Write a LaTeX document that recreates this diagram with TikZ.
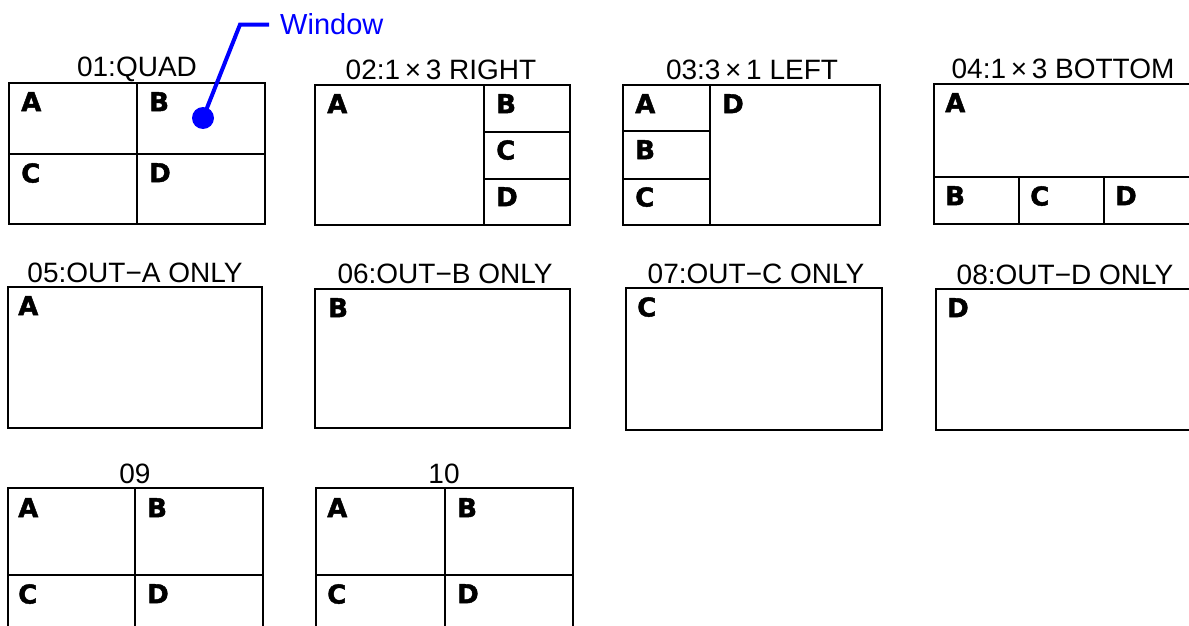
\documentclass[tikz,border=0pt]{standalone}
\usepackage{fontspec}
\setmainfont{Liberation Sans}
\newfontfamily\cellfont[BoldFeatures={FakeBold=1.6}]{DejaVu Sans}
\usetikzlibrary{positioning}

\begin{document}
\begin{tikzpicture}[x=1pt,y=-1pt,
  frame/.style={line width=1.7pt},
  ttl/.style={anchor=base,inner sep=0pt,font=\fontsize{28}{30}\selectfont},
  cell/.style={anchor=north west,inner sep=0pt,font=\cellfont\bfseries\fontsize{26}{26}\selectfont},
  wintext/.style={anchor=base west,inner sep=0pt,text=blue,font=\fontsize{29}{31}\selectfont},
  winline/.style={draw=blue,line width=4pt}]
\useasboundingbox (0,0) rectangle (1189,626);
\clip (0,0) rectangle (1189,626);

% row 1
\draw[frame] (9,83) rectangle (265,224);
\draw[frame] (137,83)--(137,224) (9,154)--(265,154);
\node[ttl] (t01) at (137,77) {01:QUAD};
\node[cell] (a01) at (21,92) {A};
\node[cell] (b01) at (149,92) {B};
\node[cell] (c01) at (21,163) {C};
\node[cell] (d01) at (149,163) {D};

\draw[frame] (315,85) rectangle (570,225);
\draw[frame] (484,85)--(484,225) (484,132)--(570,132) (484,179)--(570,179);
\node[ttl] (t02) at (441,79) {02:1\,×\,3 RIGHT};
\node[cell] (a02) at (327,94) {A};
\node[cell] (b02) at (496,94) {B};
\node[cell] (c02) at (496,140) {C};
\node[cell] (d02) at (496,187) {D};

\draw[frame] (623,85) rectangle (880,225);
\draw[frame] (710,85)--(710,225) (623,131)--(710,131) (623,179)--(710,179);
\node[ttl] (t03) at (752,79) {03:3\,×\,1 LEFT};
\node[cell] (a03) at (635,94) {A};
\node[cell] (b03) at (635,140) {B};
\node[cell] (c03) at (635,187) {C};
\node[cell] (d03) at (722,94) {D};

\draw[frame] (934,84) rectangle (1200,224);
\draw[frame] (934,177)--(1200,177) (1019,177)--(1019,224) (1104,177)--(1104,224);
\node[ttl] (t04) at (1063,78) {04:1\,×\,3 BOTTOM};
\node[cell] (a04) at (945,93) {A};
\node[cell] (b04) at (945,186) {B};
\node[cell] (c04) at (1030,186) {C};
\node[cell] (d04) at (1115,186) {D};

% row 2
\draw[frame] (8,287) rectangle (262,428);
\node[ttl] (t05) at (135,282) {05:OUT−A ONLY};
\node[cell] (a05) at (18,296) {A};

\draw[frame] (315,289) rectangle (570,428);
\node[ttl] (t06) at (445,283) {06:OUT−B ONLY};
\node[cell] (b06) at (328,298) {B};

\draw[frame] (626,288) rectangle (882,430);
\node[ttl] (t07) at (756,283) {07:OUT−C ONLY};
\node[cell] (c07) at (637,297) {C};

\draw[frame] (936,289) rectangle (1200,430);
\node[ttl] (t08) at (1065,284) {08:OUT−D ONLY};
\node[cell] (d08) at (947,298) {D};

% row 3
\draw[frame] (8,488) rectangle (263,640);
\draw[frame] (135,488)--(135,640) (8,575)--(263,575);
\node[ttl] (t09) at (135,483) {09};
\node[cell] (a09) at (18,498) {A};
\node[cell] (b09) at (147,498) {B};
\node[cell] (c09) at (18,584) {C};
\node[cell] (d09) at (147,584) {D};

\draw[frame] (316,488) rectangle (573,640);
\draw[frame] (445,488)--(445,640) (316,575)--(573,575);
\node[ttl] (t10) at (444,483) {10};
\node[cell] (a10) at (327,498) {A};
\node[cell] (b10) at (457,498) {B};
\node[cell] (c10) at (327,584) {C};
\node[cell] (d10) at (457,584) {D};

% window callout
\node[wintext] (win) at (280,35) {Window};
\coordinate (bend) at (240,25);
\coordinate (dot) at (203,118);
\draw[winline] (win.west) ++(-11,0) -- (win.west -| bend) -- (dot);
\fill[blue] (dot) circle (11pt);
\end{tikzpicture}
\end{document}
